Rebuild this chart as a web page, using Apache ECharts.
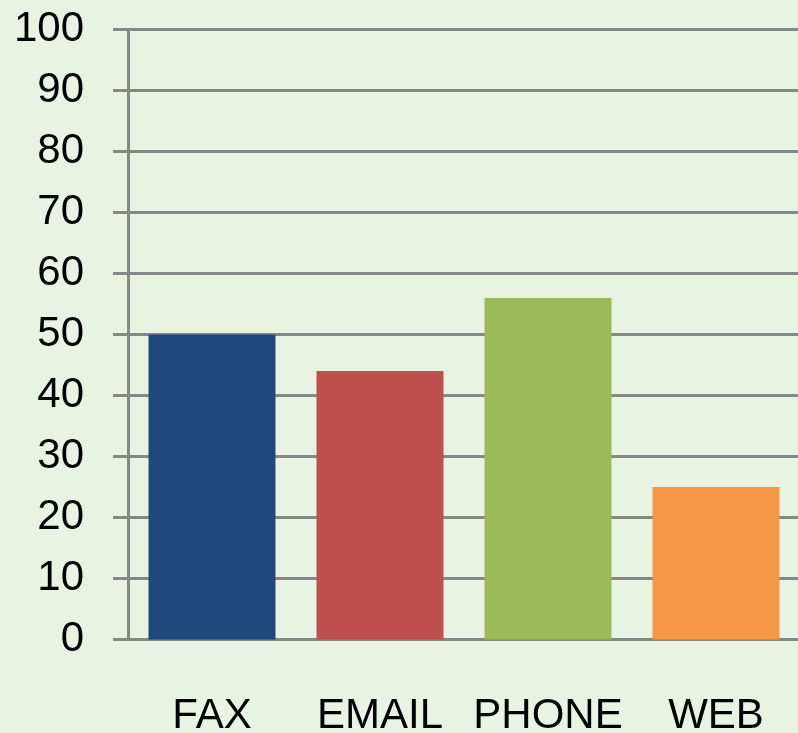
<!DOCTYPE html>
<html><head><meta charset="utf-8">
<script src="https://cdn.jsdelivr.net/npm/echarts@6/dist/echarts.min.js"></script>
<style>html,body{margin:0;padding:0;background:#E9F3E1;}#c{width:798px;height:733px;}</style>
</head><body><div id="c"></div>
<script>
const categories = ["FAX", "EMAIL", "PHONE", "WEB"];
const values = [50, 44, 56, 25];
const barColors = ["#1F497D", "#C0504D", "#9BBB59", "#F79646"];
const yTicks = { min: 0, max: 100, interval: 10 };

const chart = echarts.init(document.getElementById('c'), null, {renderer: 'canvas'});
const font = '"Liberation Sans", Arial, sans-serif';
chart.setOption({
  backgroundColor: '#E9F3E1',
  animation: false,
  grid: { left: 128, right: -2, top: 29.5, bottom: 93.5, containLabel: false, outerBoundsMode: 'none' },
  xAxis: {
    type: 'category',
    data: categories,
    axisLine: { lineStyle: { color: '#878787', width: 3 } },
    axisTick: { length: 17, lineStyle: { color: '#878787', width: 3 } },
    axisLabel: { interval: 0, margin: 56, color: '#000', fontSize: 42, fontFamily: font }
  },
  yAxis: {
    type: 'value',
    min: yTicks.min, max: yTicks.max, interval: yTicks.interval,
    axisLine: { show: true, lineStyle: { color: '#878787', width: 3 } },
    axisTick: { show: true, length: 15, lineStyle: { color: '#878787', width: 3 } },
    splitLine: { show: true, lineStyle: { color: '#878787', width: 3 } },
    axisLabel: { margin: 44, color: '#000', fontSize: 42, fontFamily: font }
  },
  series: [{
    type: 'bar',
    barWidth: 127,
    data: values.map((v, i) => ({ value: v, itemStyle: { color: barColors[i] } }))
  }]
});
</script></body></html>
